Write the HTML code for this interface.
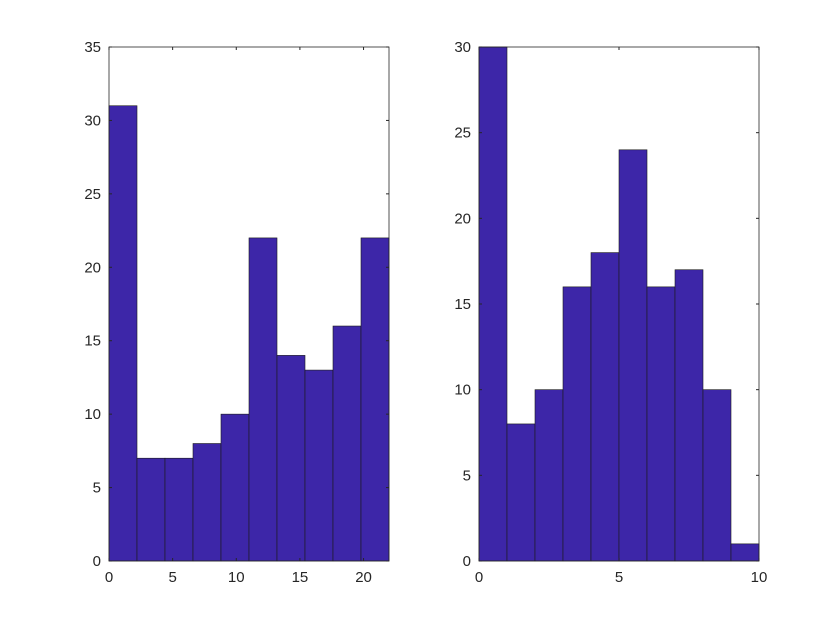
<!DOCTYPE html>
<html><head><meta charset="utf-8"><style>
body{margin:0;background:#fff;width:840px;height:630px;overflow:hidden}
svg text{font-family:"Liberation Sans",sans-serif;font-size:15px;fill:#262626}
</style></head><body>
<svg id="chart" width="840" height="630"></svg>
<script>
const leftCounts=[31,7,7,8,10,22,14,13,16,22];
const leftXTicks=[0,5,10,15,20];
const leftYTicks=[0,5,10,15,20,25,30,35];
const rightCounts=[30,8,10,16,18,24,16,17,10,1];
const rightXTicks=[0,5,10];
const rightYTicks=[0,5,10,15,20,25,30];
const NS="http://www.w3.org/2000/svg";
const svg=document.getElementById('chart');
function mk(tag,attrs,parent){const e=document.createElementNS(NS,tag);for(const k in attrs)e.setAttribute(k,attrs[k]);(parent||svg).appendChild(e);return e;}
function panel(name,px0,px1,py0,py1,xmax,ymax,counts,xt,yt){
  const g=mk('g',{});
  
  
  const sx=v=>px0+(v/xmax)*(px1-px0);
  const sy=v=>py0-(v/ymax)*(py0-py1);
  mk('rect',{x:px0,y:py1,width:px1-px0,height:py0-py1,fill:'#fff'},g);
  const w=xmax/counts.length;
  counts.forEach((c,i)=>{
    const r=mk('rect',{x:sx(i*w),y:sy(c),width:sx((i+1)*w)-sx(i*w),height:sy(0)-sy(c),fill:'#3d26a8',stroke:'#1a1a1a','stroke-width':0.6},g);
    
    
  });
  mk('rect',{x:px0,y:py1,width:px1-px0,height:py0-py1,fill:'none',stroke:'#262626','stroke-width':0.8},g);
  xt.forEach(t=>{const x=sx(t);
    mk('line',{x1:x,x2:x,y1:py0,y2:py0-3,stroke:'#262626'},g);
    mk('line',{x1:x,x2:x,y1:py1,y2:py1+3,stroke:'#262626'},g);
    const tx=mk('text',{x:x,y:py0+21,'text-anchor':'middle'},g);tx.textContent=t;
    
    
  });
  yt.forEach(t=>{const y=sy(t);
    mk('line',{x1:px0,x2:px0+3,y1:y,y2:y,stroke:'#262626'},g);
    mk('line',{x1:px1,x2:px1-3,y1:y,y2:y,stroke:'#262626'},g);
    const tx=mk('text',{x:px0-8,y:y+5,'text-anchor':'end'},g);tx.textContent=t;
    
    
  });
}
panel('left-histogram',109,389,561,47,22,35,leftCounts,leftXTicks,leftYTicks);
panel('right-histogram',479,759,561,47,10,30,rightCounts,rightXTicks,rightYTicks);
</script>
</body></html>
